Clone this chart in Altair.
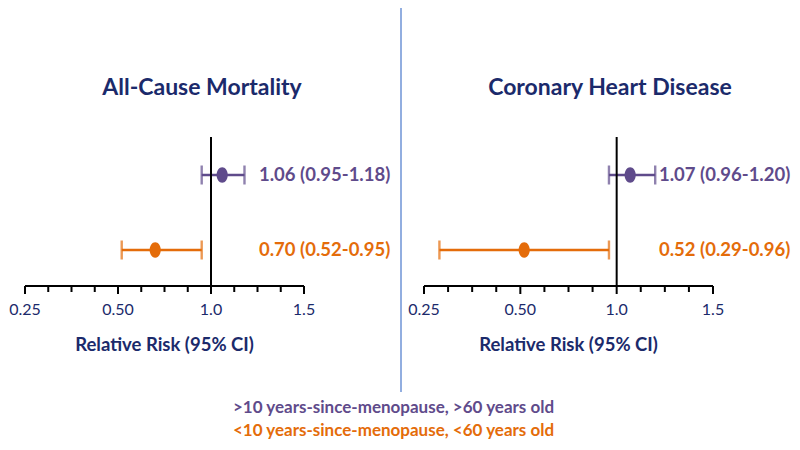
import altair as alt
import pandas as pd

# ---- data ----
panels = ["All-Cause Mortality", "Coronary Heart Disease"]
groups = [">10 years-since-menopause, >60 years old",
          "<10 years-since-menopause, <60 years old"]
acm_rr = [1.06, 0.70]
acm_lo = [0.95, 0.52]
acm_hi = [1.18, 0.95]
chd_rr = [1.07, 0.52]
chd_lo = [0.96, 0.29]
chd_hi = [1.20, 0.96]
reference_rr = 1.0
major_ticks = [0.25, 0.5, 1.0, 1.5]
major_labels = ["0.25", "0.50", "1.0", "1.5"]
minor_ticks = [0.3125, 0.375, 0.4375, 0.625, 0.75, 0.875, 1.125, 1.25, 1.375]
axis_title = "Relative Risk (95% CI)"

# ---- style ----
NAVY = "#1B2A6B"
PURPLE = "#5F4B8B"
ORANGE = "#E46C0A"
SEP = "#6E93D6"
FONT = "Lato"
AXIS_Y = 278

color = alt.Color("group:N", scale=alt.Scale(domain=groups, range=[PURPLE, ORANGE]), legend=None)
yscale = alt.Scale(type="point", domain=groups, range=[167, 242], padding=0)
ELLIPSE = "M0,-1 A0.72,1 0 1,1 0,1 A0.72,1 0 1,1 0,-1 Z"


def panel(rr, lo, hi, rng, label_x, title, title_x):
    df = pd.DataFrame({"group": groups, "rr": rr, "lo": lo, "hi": hi})
    df["label"] = [f"{r:.2f} ({l:.2f}-{h:.2f})" for r, l, h in zip(rr, lo, hi)]
    xs = alt.Scale(type="linear", domain=major_ticks, range=rng, zero=False, nice=False)
    base = alt.Chart(df)
    y = alt.Y("group:N", scale=yscale, axis=None)

    # axis drawn through the x scale
    dom = alt.Chart(pd.DataFrame({"a": [major_ticks[0]], "b": [major_ticks[-1]]})).mark_rule(
        color="black", strokeWidth=2).encode(
        x=alt.X("a:Q", scale=xs, axis=None), x2="b:Q", y=alt.value(AXIS_Y))
    tmaj = alt.Chart(pd.DataFrame({"v": major_ticks, "lab": major_labels}))
    major = tmaj.mark_rule(color="black", strokeWidth=2).encode(
        x=alt.X("v:Q", scale=xs, axis=None), y=alt.value(AXIS_Y), y2=alt.value(AXIS_Y + 8))
    minor = alt.Chart(pd.DataFrame({"v": minor_ticks})).mark_rule(
        color="black", strokeWidth=2).encode(
        x=alt.X("v:Q", scale=xs, axis=None), y=alt.value(AXIS_Y), y2=alt.value(AXIS_Y + 6))
    labs = tmaj.mark_text(baseline="middle", align="center", font=FONT, fontSize=16,
                          color=NAVY).encode(
        x=alt.X("v:Q", scale=xs, axis=None), y=alt.value(AXIS_Y + 24), text="lab:N")
    atitle = alt.Chart(pd.DataFrame({"t": [axis_title]})).mark_text(
        baseline="middle", align="center", font=FONT, fontSize=18.5, fontWeight="bold",
        color=NAVY).encode(x=alt.value((rng[0] + rng[-1]) / 2), y=alt.value(AXIS_Y + 59),
                           text="t:N")

    bar = base.mark_rule(strokeWidth=2.4).encode(
        x=alt.X("lo:Q", scale=xs, axis=None), x2="hi:Q", y=y, color=color)
    ref = alt.Chart(pd.DataFrame({"ref": [reference_rr]})).mark_rule(
        color="black", strokeWidth=2).encode(
        x=alt.X("ref:Q", scale=xs, axis=None), y=alt.value(129), y2=alt.value(AXIS_Y))
    cap_lo = base.mark_tick(orient="vertical", size=19, thickness=2.4).encode(
        x=alt.X("lo:Q", scale=xs, axis=None), y=y, color=color)
    cap_hi = base.mark_tick(orient="vertical", size=19, thickness=2.4).encode(
        x=alt.X("hi:Q", scale=xs, axis=None), y=y, color=color)
    dot = base.mark_point(shape=ELLIPSE, filled=True, size=240, opacity=1).encode(
        x=alt.X("rr:Q", scale=xs, axis=None), y=y, color=color)
    txt = base.mark_text(align="left", baseline="middle", font=FONT,
                         fontWeight="bold", fontSize=18.5).encode(
        x=alt.value(label_x), y=y, text="label:N", color=color)
    ttl = alt.Chart(pd.DataFrame({"t": [title]})).mark_text(
        align="center", baseline="middle", font=FONT, fontWeight="bold",
        fontSize=23, color=NAVY).encode(x=alt.value(title_x), y=alt.value(80), text="t:N")
    return alt.layer(dom, major, minor, labs, atitle, bar, ref, cap_lo, cap_hi, dot, txt, ttl)


left = panel(acm_rr, acm_lo, acm_hi, [17, 110, 203, 296], 251, panels[0], 194)
right = panel(chd_rr, chd_lo, chd_hi, [416, 512.33, 608.67, 705], 651, panels[1], 602)

sep = alt.Chart(pd.DataFrame({"a": [0]})).mark_rule(color=SEP, strokeWidth=1.5).encode(
    x=alt.value(393), y=alt.value(0), y2=alt.value(384))

legend_layers = []
for i, g in enumerate(groups):
    legend_layers.append(
        alt.Chart(pd.DataFrame({"group": [g]})).mark_text(
            align="left", baseline="middle", font=FONT, fontWeight="bold", fontSize=17
        ).encode(x=alt.value(225), y=alt.value(400 + 23 * i), text="group:N", color=color))

chart = alt.layer(left, right, sep, *legend_layers).resolve_scale(
    x="independent").properties(
    width=784, height=278,
    autosize=alt.AutoSizeParams(type="none"),
    padding={"left": 0, "top": 0, "right": 0, "bottom": 156},
).configure_view(stroke=None)

chart.save("out.html", embed_options={"renderer": "svg", "actions": False})
